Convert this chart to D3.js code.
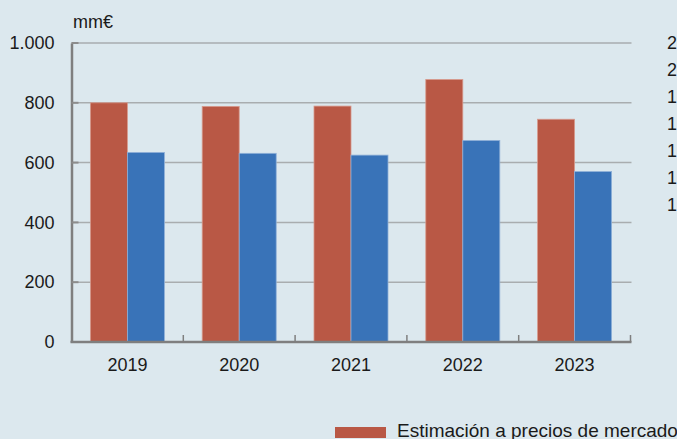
<!DOCTYPE html>
<html>
<head>
<meta charset="utf-8">
<script src="https://cdn.jsdelivr.net/npm/d3@7"></script>
<style>
  html, body { margin: 0; padding: 0; background: #dce8ee; overflow: hidden; }
  svg { display: block; font-family: "Liberation Sans", Arial, sans-serif; }
</style>
</head>
<body>
<svg id="chart" width="677" height="439"></svg>
<script>
// data
var years = ["2019", "2020", "2021", "2022", "2023"];
var marketValues = [800, 788, 789, 878, 745];
var otherValues = [634, 631, 625, 674, 570];
var seriesNames = ["Estimación a precios de mercado", ""];
var yTicks = [0, 200, 400, 600, 800, 1000];
// cut-off digits of a neighbouring panel at the right edge
var sideDigits = ["2", "2", "1", "1", "1", "1", "1"];

var svg = d3.select("#chart"),
    width = +svg.attr("width"),
    height = +svg.attr("height");

var plotLeft = 71.5, plotRight = 630.5, plotTop = 43, plotBottom = 342;

var x = d3.scaleBand().domain(years).range([plotLeft, plotRight])
    .paddingInner(0.338).paddingOuter(0.169);
var x1 = d3.scaleBand().domain([0, 1]).range([0, x.bandwidth()]);
var y = d3.scaleLinear().domain([0, 1000]).range([plotBottom, plotTop]);

var fmt = function(d) { return d3.format(",")(d).replace(/,/g, "."); };

// gridlines
svg.append("g").selectAll("line")
  .data(yTicks.slice(1))
  .enter().append("line")
    .attr("x1", plotLeft).attr("x2", plotRight + 1)
    .attr("y1", function(d) { return y(d); })
    .attr("y2", function(d) { return y(d); })
    .attr("stroke", "#a9adaf").attr("stroke-width", 1.5);

// bars
var colors = ["#b95845", "#3973b8"];
var series = [marketValues, otherValues];
series.forEach(function(vals, s) {
  svg.append("g").selectAll("rect")
    .data(vals)
    .enter().append("rect")
      .attr("x", function(d, i) { return x(years[i]) + x1(s); })
      .attr("y", function(d) { return y(d); })
      .attr("width", x1.bandwidth())
      .attr("height", function(d) { return plotBottom - y(d); })
      .attr("fill", colors[s])
      .attr("stroke", s === 0 ? "#d79a8d" : "#8fb0d8")
      .attr("stroke-width", 0.8);
});

// y axis
var yAxis = svg.append("g")
    .attr("transform", "translate(" + plotLeft + ",0)")
    .call(d3.axisLeft(y).tickValues(yTicks).tickFormat(fmt).tickSize(0).tickPadding(17));
yAxis.select(".domain").attr("stroke", "#7f7f7f").attr("stroke-width", 2.5);
yAxis.selectAll("text").attr("font-size", 18).attr("fill", "#1a1a1a");
svg.append("g").selectAll("line")
  .data(yTicks.slice(1))
  .enter().append("line")
    .attr("x1", plotLeft).attr("x2", plotLeft + 7)
    .attr("y1", function(d) { return y(d); })
    .attr("y2", function(d) { return y(d); })
    .attr("stroke", "#8c8c8c").attr("stroke-width", 2);

// x axis
var bounds = [plotLeft].concat(years.map(function(d) { return x(d) + x.bandwidth() + x.step() * x.paddingInner() / 2; }));
bounds[bounds.length - 1] = plotRight;
svg.append("line")
    .attr("x1", plotLeft - 1).attr("x2", plotRight + 1)
    .attr("y1", plotBottom).attr("y2", plotBottom)
    .attr("stroke", "#7f7f7f").attr("stroke-width", 2.5);
svg.append("g").selectAll("line")
  .data(bounds.slice(1))
  .enter().append("line")
    .attr("x1", function(d) { return d; }).attr("x2", function(d) { return d; })
    .attr("y1", plotBottom).attr("y2", plotBottom - 7)
    .attr("stroke", "#7f7f7f").attr("stroke-width", 1.5);
svg.append("g").selectAll("text")
  .data(years)
  .enter().append("text")
    .attr("x", function(d) { return x(d) + x.bandwidth() / 2; })
    .attr("y", 371)
    .attr("text-anchor", "middle")
    .attr("font-size", 18).attr("fill", "#1a1a1a")
    .text(function(d) { return d; });

// unit label
svg.append("text")
    .attr("x", 73).attr("y", 28)
    .attr("font-size", 18).attr("fill", "#1a1a1a")
    .text("mm€");

// neighbour digits
svg.append("g").selectAll("text")
  .data(sideDigits)
  .enter().append("text")
    .attr("x", 667)
    .attr("y", function(d, i) { return 49 + i * 27; })
    .attr("font-size", 18).attr("fill", "#1a1a1a")
    .text(function(d) { return d; });

// legend (cut off at the bottom edge)
svg.append("rect")
    .attr("x", 335).attr("y", 427).attr("width", 51).attr("height", 11)
    .attr("fill", colors[0]);
svg.append("text")
    .attr("x", 397).attr("y", 437)
    .attr("font-size", 19).attr("fill", "#1a1a1a")
    .text(seriesNames[0]);
</script>
</body>
</html>
